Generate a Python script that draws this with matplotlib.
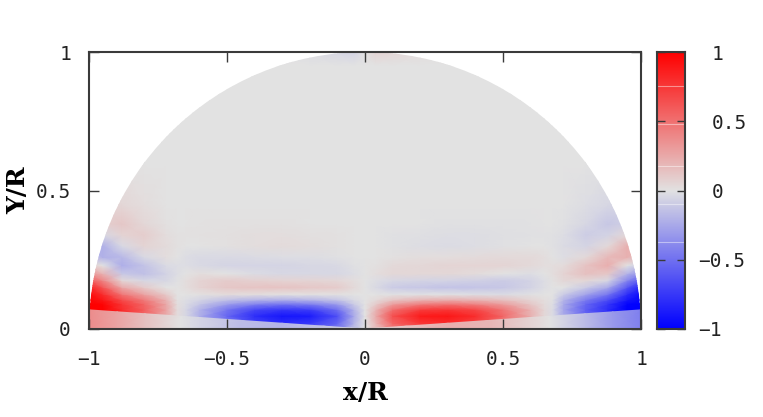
import numpy as np
import matplotlib
matplotlib.use("Agg")
import matplotlib.pyplot as plt
from matplotlib.colors import LinearSegmentedColormap
from matplotlib.patches import Circle

# stations of the read-off table, left half only (right half has opposite sign)
x_stations = [-1, -.95, -.88, -.8, -.72, -.68, -.65, -.6, -.5, -.4, -.3, -.2, -.1, -.04, 0]
y_stations = [0, .02, .047, .07, .09, .105, .125, .15, .175, .2, .23, .26, .3, .34, .38, .45, .6, .95, 1]

field_left = [
    [.95, .95, .75, .5, .22, .02, -.03, -.12, -.35, -.55, -.65, -.6, -.45, -.15, 0],
    [1, .95, .75, .5, .22, .02, -.04, -.18, -.45, -.7, -.8, -.75, -.55, -.2, 0],
    [1, 1, .8, .55, .25, .03, -.05, -.22, -.55, -.8, -.9, -.88, -.65, -.25, 0],
    [1, 1, .8, .58, .27, .03, -.05, -.2, -.48, -.68, -.75, -.72, -.5, -.2, 0],
    [1, .98, .76, .55, .25, .02, -.03, -.12, -.3, -.42, -.48, -.43, -.3, -.1, 0],
    [.98, .9, .66, .45, .2, .01, -.02, -.06, -.15, -.2, -.23, -.2, -.13, -.04, 0],
    [.95, .8, .48, .28, .1, 0, 0, .01, .03, .02, .01, .01, .01, 0, 0],
    [.85, .62, .25, .1, 0, 0, .02, .07, .12, .13, .14, .12, .1, .04, 0],
    [.6, .4, .05, -.05, -.05, -.01, .02, .07, .1, .08, .07, .06, .05, .02, 0],
    [.35, .2, -.12, -.15, -.07, -.02, 0, .02, 0, -.03, -.05, -.05, -.05, -.02, 0],
    [.1, 0, -.23, -.14, -.03, -.02, -.02, -.04, -.06, -.06, -.06, -.05, -.04, -.01, 0],
    [-.1, -.22, -.18, -.04, .02, 0, -.02, -.04, -.04, -.03, -.02, -.02, -.01, 0, 0],
    [-.25, -.22, -.04, .06, .03, .01, 0, 0, .01, .02, .03, .02, .01, 0, 0],
    [-.1, -.05, .07, .09, .02, .01, .01, .01, .015, .02, .02, .015, .01, 0, 0],
    [.05, .08, .12, .05, .01, 0, 0, .005, .01, .01, .01, 0, 0, 0, 0],
    [.08, .08, .05, .02, 0, 0, 0, 0, 0, 0, 0, 0, 0, 0, 0],
    [0, 0, 0, 0, 0, 0, 0, 0, 0, 0, 0, 0, 0, 0, 0],
    [0, 0, 0, 0, 0, 0, 0, 0, 0, 0, 0, 0, 0, 0, 0],
    [0, 0, 0, 0, 0, 0, 0, 0, 0, 0, 0, -.02, -.05, -.06, 0],
]

# thin strip along the x axis, by radius (left side)
strip_r = [0, .05, .15, .3, .45, .6, .67, .8, .9, 1]
strip_left = [0, -.05, -.12, -.2, -.17, -.06, 0, .15, .28, .38]
strip_deg = [0, 3.95]

x_ticks = [-1, -.5, 0, .5, 1]
x_labels = ["\u22121", "\u22120.5", "0", "0.5", "1"]
y_ticks = [0, .5, 1]
y_labels = ["0", "0.5", "1"]
cb_ticks = [-1, -.5, 0, .5, 1]
cb_labels = ["\u22121", "\u22120.5", "0", "0.5", "1"]
cb_streaks = [.754, .477, .18, -.10, -.37]

W, H = 763, 417
MONO = "DejaVu Sans Mono"
FRAME = "#3a3a3a"
cmap = LinearSegmentedColormap.from_list("rgb", ["#0000ff", "#e2e2e2", "#ff0000"], N=512)

fig = plt.figure(figsize=(W / 100, H / 100), dpi=100)
ax = fig.add_axes([89 / W, 1 - 329 / H, 552 / W, 277 / H])
cax = fig.add_axes([657 / W, 1 - 329 / H, 28 / W, 277 / H])

# main field: mirror the left half with the sign flipped
left = np.array(field_left, dtype=float)
xs = np.array(x_stations, dtype=float)
x_all = np.concatenate([xs, -xs[-2::-1]])
z_all = np.hstack([left, -left[:, -2::-1]])
mesh = ax.pcolormesh(x_all, y_stations, z_all, cmap=cmap, vmin=-1, vmax=1,
                     shading="gouraud", rasterized=True)
mesh.set_clip_path(Circle((0, 0), 1, transform=ax.transData))

# strip along the axis has a sharp edge against the field above it
r = np.array(strip_r, dtype=float)
v = np.array(strip_left, dtype=float)
r_all = np.concatenate([-r[::-1], r[1:]])
v_all = np.concatenate([v[::-1], -v[1:] * 1.15])
th = np.radians(strip_deg)
sx = np.outer(np.cos(th), r_all)
sy = np.outer(np.sin(th), np.abs(r_all))
sz = np.vstack([v_all, v_all])
ax.pcolormesh(sx, sy, sz, cmap=cmap, vmin=-1, vmax=1, shading="gouraud")

ax.set_xlim(-1, 1)
ax.set_ylim(0, 1)
ax.set_xticks(x_ticks)
ax.set_xticklabels(x_labels)
ax.set_yticks(y_ticks)
ax.set_yticklabels(y_labels)
ax.tick_params(direction="in", length=7, width=1, color=FRAME, top=True, right=True)
ax.tick_params(axis="x", pad=15)
ax.tick_params(axis="y", pad=13)
ax.set_xlabel("x/R", fontname="DejaVu Serif", fontweight="bold", fontsize=18, va="center")
ax.set_ylabel("Y/R", fontname="DejaVu Serif", fontweight="bold", fontsize=18, va="center")
ax.xaxis.set_label_coords(0.5, (329 - 393) / 277)
ax.yaxis.set_label_coords((18 - 89) / 552, 0.5)

# colour bar
grad = np.linspace(-1, 1, 256).reshape(-1, 1)
cax.imshow(grad, cmap=cmap, vmin=-1, vmax=1, origin="lower", aspect="auto", extent=[0, 1, -1, 1])
for s in cb_streaks:
    cax.axhline(s, color="white", lw=0.8, alpha=0.45)
cax.set_xticks([])
cax.yaxis.tick_right()
cax.set_yticks(cb_ticks)
cax.set_yticklabels(cb_labels)
cax.tick_params(direction="in", length=6, width=1, color=FRAME, left=True, right=True)
# minus signs hang to the left of the digit column
for tick, lab in zip(cax.yaxis.get_major_ticks(), cb_labels):
    tick.set_pad(9.5 if lab.startswith("\u2212") else 19.5)

for a in (ax, cax):
    for sp in a.spines.values():
        sp.set_linewidth(1.5)
        sp.set_color(FRAME)
    for t in a.get_xticklabels() + a.get_yticklabels():
        t.set_fontname(MONO)
        t.set_fontsize(14)
        t.set_color("#222222")

fig.savefig("out.png", dpi=100)
